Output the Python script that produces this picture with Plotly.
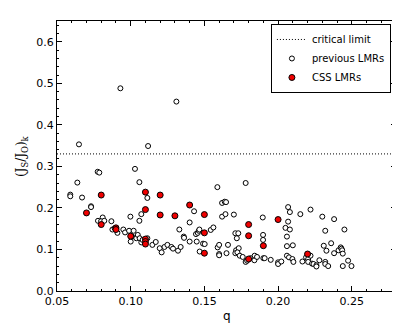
import plotly.graph_objects as go

# previous LMRs (open circles)
prev_q = [0.0649, 0.093, 0.1118, 0.131,
          0.059, 0.059, 0.0638, 0.067, 0.0731, 0.0731,
          0.0776, 0.0787, 0.0778, 0.081, 0.0799, 0.0821,
          0.0869, 0.0876, 0.091, 0.0891, 0.095, 0.0962,
          0.0998, 0.0989, 0.102, 0.1, 0.1009, 0.1029,
          0.1059, 0.1059, 0.1072, 0.1038, 0.1048, 0.1061,
          0.1072, 0.1081, 0.1113, 0.1113, 0.1147, 0.117,
          0.1197, 0.121, 0.1229, 0.1249, 0.1276, 0.1287,
          0.1321, 0.1339, 0.133, 0.136, 0.1362, 0.14,
          0.14, 0.143, 0.1443, 0.1455, 0.1462, 0.1466,
          0.1448, 0.1468, 0.1491, 0.1502,
          0.1588, 0.162, 0.1638, 0.1647, 0.162, 0.1643,
          0.170, 0.178, 0.1543, 0.1561, 0.159, 0.160,
          0.160, 0.160, 0.165, 0.166, 0.171, 0.173,
          0.172, 0.1715, 0.1733, 0.171, 0.1724, 0.174,
          0.176, 0.178, 0.179, 0.1814, 0.1839, 0.1841,
          0.1857, 0.1896, 0.1898, 0.1898, 0.19, 0.1909,
          0.195, 0.200, 0.200, 0.2022, 0.2068, 0.208,
          0.2068, 0.205, 0.208, 0.206, 0.206, 0.210,
          0.206, 0.2074, 0.2097, 0.2104, 0.2151, 0.222,
          0.2165, 0.219, 0.2204, 0.222, 0.2204, 0.223,
          0.224, 0.226, 0.226, 0.228, 0.23, 0.231,
          0.232, 0.2328, 0.232, 0.232, 0.234, 0.236,
          0.238, 0.238, 0.241, 0.2425, 0.243, 0.2435,
          0.2439, 0.245, 0.2439, 0.2475, 0.2498]
prev_v = [0.353, 0.488, 0.349, 0.456,
          0.232, 0.228, 0.261, 0.225, 0.204, 0.202,
          0.287, 0.285, 0.169, 0.177, 0.168, 0.169,
          0.168, 0.148, 0.140, 0.151, 0.148, 0.141,
          0.179, 0.145, 0.145, 0.119, 0.131, 0.294,
          0.262, 0.169, 0.185, 0.127, 0.135, 0.127,
          0.117, 0.123, 0.224, 0.127, 0.111, 0.118,
          0.103, 0.093, 0.106, 0.111, 0.106, 0.102,
          0.097, 0.106, 0.148, 0.131, 0.128, 0.165,
          0.119, 0.192, 0.137, 0.140, 0.145, 0.148,
          0.119, 0.095, 0.114, 0.113,
          0.250, 0.212, 0.215, 0.214, 0.179, 0.185,
          0.184, 0.260, 0.147, 0.153, 0.105, 0.111,
          0.089, 0.086, 0.091, 0.111, 0.139, 0.139,
          0.127, 0.098, 0.103, 0.091, 0.093, 0.085,
          0.082, 0.070, 0.073, 0.079, 0.074, 0.085,
          0.082, 0.177, 0.135, 0.123, 0.079, 0.079,
          0.075, 0.069, 0.065, 0.071, 0.202, 0.190,
          0.167, 0.152, 0.148, 0.131, 0.108, 0.110,
          0.085, 0.081, 0.077, 0.070, 0.185, 0.196,
          0.071, 0.081, 0.077, 0.085, 0.070, 0.066,
          0.065, 0.062, 0.059, 0.074, 0.179, 0.109,
          0.145, 0.097, 0.070, 0.065, 0.060, 0.115,
          0.173, 0.091, 0.098, 0.105, 0.102, 0.098,
          0.090, 0.148, 0.060, 0.073, 0.060]

# CSS LMRs (red)
css_q = [0.07, 0.08, 0.08, 0.09, 0.09, 0.10, 0.11, 0.11, 0.11, 0.11, 0.11, 0.12,
         0.12, 0.13, 0.14, 0.15, 0.15, 0.15, 0.18, 0.18, 0.18, 0.19, 0.20, 0.22]
css_v = [0.188, 0.231, 0.160, 0.152, 0.148, 0.132, 0.238, 0.196, 0.125, 0.119, 0.113, 0.231,
         0.183, 0.181, 0.207, 0.184, 0.140, 0.091, 0.160, 0.133, 0.077, 0.109, 0.172, 0.089]

crit = 0.33
x_range = [0.05, 0.28]

fig = go.Figure()
fig.add_trace(go.Scatter(x=x_range, y=[crit, crit], mode='lines', name='critical limit',
                         line=dict(color='black', width=1, dash='1px,2px')))
fig.add_trace(go.Scatter(x=prev_q, y=prev_v, mode='markers', name='previous LMRs',
                         marker=dict(size=5, color='white', line=dict(color='black', width=1))))
fig.add_trace(go.Scatter(x=css_q, y=css_v, mode='markers', name='CSS LMRs',
                         marker=dict(size=6, color='#f00000', line=dict(color='black', width=1))))

axis_style = dict(showgrid=False, zeroline=False, showline=True, linecolor='black', linewidth=1,
                  mirror='allticks', ticks='inside', ticklen=5, tickcolor='black', automargin=False,
                  tickfont=dict(family='DejaVu Sans', size=11, color='black'))

fig.update_xaxes(range=x_range, tickvals=[0.05, 0.10, 0.15, 0.20, 0.25], tickformat='.2f',
                 minor=dict(ticks='inside', dtick=0.01, ticklen=2, tickcolor='black'),
                 **axis_style)
fig.update_yaxes(range=[0, 0.65], tickvals=[0, 0.1, 0.2, 0.3, 0.4, 0.5, 0.6], tickformat='.1f',
                 minor=dict(ticks='inside', dtick=0.02, ticklen=2, tickcolor='black'),
                 **axis_style)

# axis titles as annotations so they sit where the reference has them
fig.add_annotation(text='q', xref='paper', yref='paper', x=0.5, y=-0.092,
                   xanchor='center', yanchor='middle', showarrow=False,
                   font=dict(family='DejaVu Sans', size=12, color='black'))
fig.add_annotation(text='(J<sub>S</sub>/J<sub>O</sub>)<sub>k</sub>', xref='paper', yref='paper',
                   x=-0.103, y=0.5, xanchor='center', yanchor='middle', textangle=-90, showarrow=False,
                   font=dict(family='DejaVu Serif', size=12, color='black'))

fig.update_layout(width=400, height=325, margin=dict(l=49, r=12, t=13, b=42),
                  paper_bgcolor='white', plot_bgcolor='white',
                  legend=dict(x=0.985, y=0.989, xanchor='right', yanchor='top',
                              bordercolor='black', borderwidth=1, bgcolor='white',
                              font=dict(family='DejaVu Sans', size=10, color='black'),
                              tracegroupgap=0, itemwidth=30))
fig.write_html("out.html")
